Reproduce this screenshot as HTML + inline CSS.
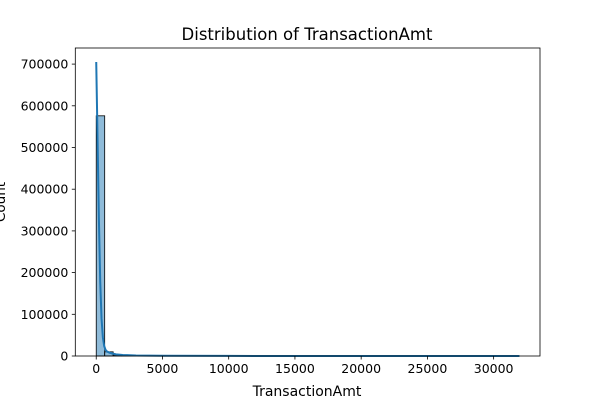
<!DOCTYPE html>
<html><head><meta charset="utf-8"><style>
body{margin:0;background:#fff;font-family:"Liberation Sans","DejaVu Sans",sans-serif;}
svg text{font-family:"DejaVu Sans","Liberation Sans",sans-serif;}
</style></head><body>
<svg id="chart" width="600" height="400" xmlns="http://www.w3.org/2000/svg">
<rect width="600" height="400" fill="#fff"/>
<text x="307" y="40" font-size="16.5" text-anchor="middle">Distribution of TransactionAmt</text>
<g id="bars"></g>
<g id="kde"></g>
<g id="axes"></g>
<text x="307" y="396" font-size="14" text-anchor="middle">TransactionAmt</text>
<text transform="translate(5,202) rotate(-90)" font-size="13.5" text-anchor="middle">Count</text>
</svg>
<script>
const binStart = 0.25;
const binWidth = 638.7;
const binCounts = [576000, 10000, 2500, 1200, 600, 400, 250, 150, 100, 80, 60, 50, 40, 30, 25, 20, 15, 10, 8, 6, 5, 4, 3, 3, 2, 2, 2, 1, 1, 1, 1, 1, 1, 1, 1, 1, 1, 1, 1, 1, 1, 1, 1, 1, 1, 1, 1, 1, 1, 1];
const kdeX = [0, 100, 200, 300, 400, 500, 600, 700, 800, 1000, 1200, 1500, 2000, 3000, 5000, 10000, 20000, 31940];
const kdeY = [705000, 520000, 330000, 180000, 90000, 45000, 24000, 15000, 11000, 8000, 6000, 4000, 2500, 1200, 500, 150, 50, 20];
const xTicks = [0, 5000, 10000, 15000, 20000, 25000, 30000];
const yTicks = [0, 100000, 200000, 300000, 400000, 500000, 600000, 700000];

const L=75.3,R=540,T=48,B=356;
const xMin=-1580,xMax=33500,yMax=(B-T)/41.7*100000;
const sx=v=>L+(v-xMin)/(xMax-xMin)*(R-L);
const sy=v=>B-v/yMax*(B-T);
const NS="http://www.w3.org/2000/svg";
function mk(tag,attrs,parent){const e=document.createElementNS(NS,tag);for(const k in attrs)e.setAttribute(k,attrs[k]);parent.appendChild(e);return e;}
const bars=document.getElementById('bars');
binCounts.forEach((c,i)=>{
  const x0=sx(binStart+i*binWidth),x1=sx(binStart+(i+1)*binWidth);
  const r=mk('rect',{x:x0,y:sy(c),width:x1-x0,height:B-sy(c),fill:'rgba(31,119,180,0.5)',stroke:'#000','stroke-width':0.8},bars);
  
  
});
const kde=document.getElementById('kde');
const p=mk('path',{d:kdeX.map((x,i)=>(i?'L':'M')+sx(x)+' '+sy(kdeY[i])).join(' '),fill:'none',stroke:'#1f77b4','stroke-width':2},kde);


const ax=document.getElementById('axes');
mk('rect',{x:L,y:T,width:R-L,height:B-T,fill:'none',stroke:'#000','stroke-width':0.8},ax);
xTicks.forEach(t=>{
  mk('line',{x1:sx(t),x2:sx(t),y1:B,y2:B+3.5,stroke:'#000','stroke-width':0.8},ax);
  const tx=mk('text',{x:sx(t),y:B+17,'font-size':12.5,'text-anchor':'middle'},ax);
  tx.textContent=t;
  
  
});
yTicks.forEach(t=>{
  mk('line',{x1:L-3.5,x2:L,y1:sy(t),y2:sy(t),stroke:'#000','stroke-width':0.8},ax);
  const tx=mk('text',{x:L-7,y:sy(t)+4.5,'font-size':12.5,'text-anchor':'end'},ax);
  tx.textContent=t;
  
  
});
</script>
</body></html>
